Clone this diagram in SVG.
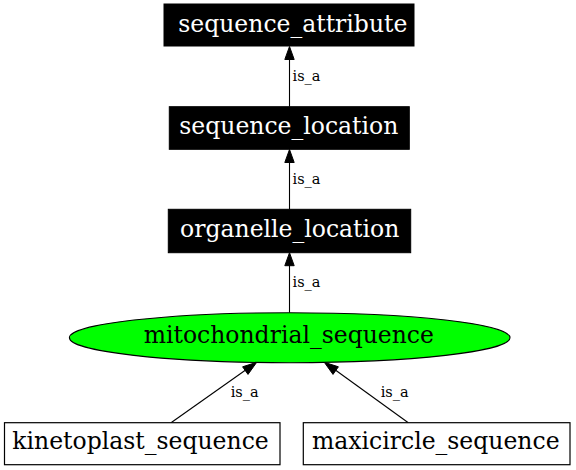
<svg xmlns="http://www.w3.org/2000/svg" width="576" height="470" viewBox="0 0 576 470">
<defs>
<style>
.dark rect{fill:#000;stroke:#000;stroke-width:1}
.dark text{fill:#fff;font-family:"DejaVu Serif",serif;font-size:23.5px;text-anchor:middle}
.plain rect{fill:#fff;stroke:#000;stroke-width:1.2}
.plain text{fill:#000;font-family:"DejaVu Serif",serif;font-size:23.5px;text-anchor:middle}
.edge line{stroke:#000;stroke-width:1.1}
.edge polygon{fill:#000;stroke:#000;stroke-width:1}
.lbl{font-family:"DejaVu Serif",serif;font-size:14.5px;fill:#000}
</style>
</defs>
<rect width="576" height="470" fill="#fff"/>
<g id="edges" class="edge">
<line x1="289.5" y1="106.7" x2="289.5" y2="58"/>
<polygon points="289.5,46.5 284.8,59.5 294.2,59.5"/>
<text class="lbl" x="292.5" y="81">is_a</text>
<line x1="289.5" y1="209.3" x2="289.5" y2="161"/>
<polygon points="289.5,149.5 284.8,162.5 294.2,162.5"/>
<text class="lbl" x="292.5" y="184">is_a</text>
<line x1="289.5" y1="312.7" x2="289.5" y2="264"/>
<polygon points="289.5,252.7 284.8,265.7 294.2,265.7"/>
<text class="lbl" x="292.5" y="287">is_a</text>
<line x1="171" y1="422.7" x2="246" y2="369.8"/>
<polygon points="256.7,362.3 242.6,366.8 248.0,374.4"/>
<text class="lbl" x="230.7" y="397">is_a</text>
<line x1="408.3" y1="422.7" x2="335" y2="369.8"/>
<polygon points="324.3,362.3 333.0,374.4 338.4,366.8"/>
<text class="lbl" x="380.7" y="397">is_a</text>
</g>
<g id="sequence_attribute" class="dark">
<rect x="164" y="4" width="250" height="42"/>
<text x="292.8" y="31.7">sequence_attribute</text>
</g>
<g id="sequence_location" class="dark">
<rect x="169.3" y="106.7" width="240" height="42.6"/>
<text x="288.8" y="134">sequence_location</text>
</g>
<g id="organelle_location" class="dark">
<rect x="168.3" y="209.3" width="242.4" height="43.4"/>
<text x="289.7" y="237">organelle_location</text>
</g>
<g id="mitochondrial_sequence">
<ellipse cx="289.7" cy="337.7" rx="220.3" ry="25" fill="#00ff00" stroke="#000" stroke-width="1.1"/>
<text x="288.8" y="343" font-family="DejaVu Serif, serif" font-size="23.5" text-anchor="middle" fill="#000">mitochondrial_sequence</text>
</g>
<g id="kinetoplast_sequence" class="plain">
<rect x="4.5" y="422.7" width="275.5" height="42"/>
<text x="140.5" y="449">kinetoplast_sequence</text>
</g>
<g id="maxicircle_sequence" class="plain">
<rect x="303.3" y="422.7" width="266.7" height="42"/>
<text x="435.8" y="449">maxicircle_sequence</text>
</g>
</svg>
